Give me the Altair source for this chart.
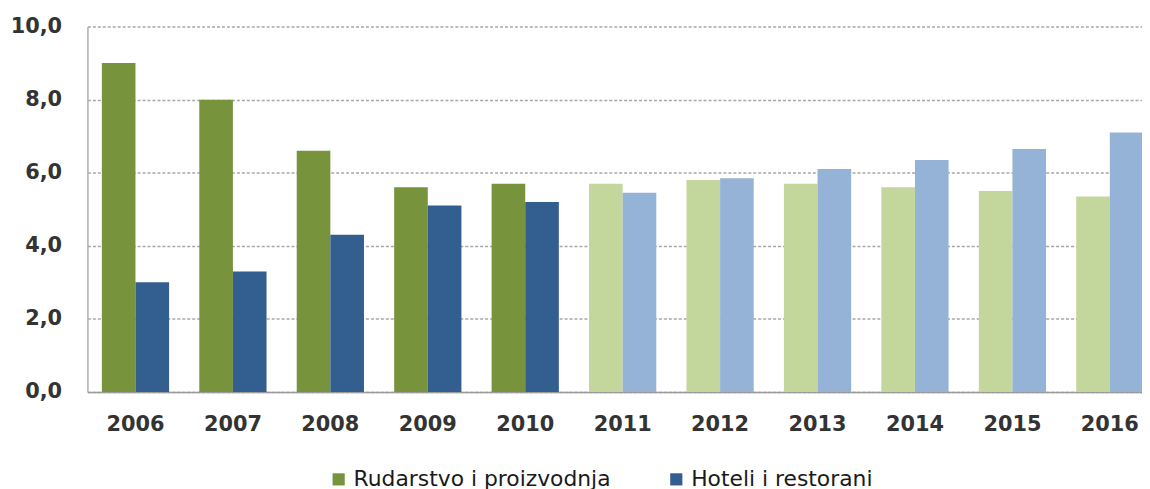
import altair as alt
import pandas as pd

years = ["2006", "2007", "2008", "2009", "2010", "2011", "2012", "2013", "2014", "2015", "2016"]
rudarstvo = [9.0, 8.0, 6.6, 5.6, 5.7, 5.7, 5.8, 5.7, 5.6, 5.5, 5.35]
hoteli = [3.0, 3.3, 4.3, 5.1, 5.2, 5.45, 5.85, 6.1, 6.35, 6.65, 7.1]
projected = [False] * 5 + [True] * 6

series_names = ["Rudarstvo i proizvodnja", "Hoteli i restorani"]
proj_names = ["Rudarstvo i proizvodnja (projekcija)", "Hoteli i restorani (projekcija)"]
colors = ["#77933C", "#335E90", "#C3D69B", "#95B3D7"]
y_ticks = [0, 2, 4, 6, 8, 10]

rows = []
for i, y in enumerate(years):
    for s, vals in enumerate([rudarstvo, hoteli]):
        rows.append({
            "godina": y,
            "serija": series_names[s],
            "vrijednost": vals[i],
            "boja": proj_names[s] if projected[i] else series_names[s],
        })
df = pd.DataFrame(rows)

FONT = "DejaVu Sans"

chart = alt.Chart(df).mark_bar().encode(
    x=alt.X("godina:N", sort=years, title=None,
            scale=alt.Scale(paddingInner=0.31, paddingOuter=0.148, range=[0, 1078]),
            axis=alt.Axis(labelAngle=0, ticks=False, labelPadding=22, labelFont=FONT,
                          labelFontSize=21, labelFontWeight="bold", labelColor="#333333",
                          domainColor="#9A9A9A", domainWidth=1.5, grid=False)),
    xOffset=alt.XOffset("serija:N", sort=series_names),
    y=alt.Y("vrijednost:Q", title=None,
            scale=alt.Scale(domain=[0, 10], nice=False),
            axis=alt.Axis(values=y_ticks, ticks=False, labelPadding=26, labelFont=FONT,
                          labelFontSize=21, labelFontWeight="bold", labelColor="#333333",
                          labelExpr="replace(format(datum.value, '.1f'), '.', ',')",
                          domainColor="#B0B0B0", domainWidth=1.5,
                          grid=True, gridColor="#A6A6A6", gridDash=[3, 2], gridWidth=1.4)),
    color=alt.Color("boja:N",
                    scale=alt.Scale(domain=series_names + proj_names, range=colors),
                    legend=alt.Legend(values=series_names, title=None, orient="none",
                                      legendX=242, legendY=445, direction="horizontal",
                                      symbolType="square", symbolSize=150, symbolStrokeWidth=0,
                                      labelFont=FONT, labelFontSize=22, labelColor="#1a1a1a",
                                      columnPadding=54, labelOffset=4, labelLimit=400)),
).properties(
    width=1062,
    height=368,
    autosize=alt.AutoSizeParams(type="none"),
    padding={"left": 80, "top": 17, "right": 0, "bottom": 96},
).configure_view(stroke=None)

chart.save("out.html", embed_options={"renderer": "svg", "actions": False})
